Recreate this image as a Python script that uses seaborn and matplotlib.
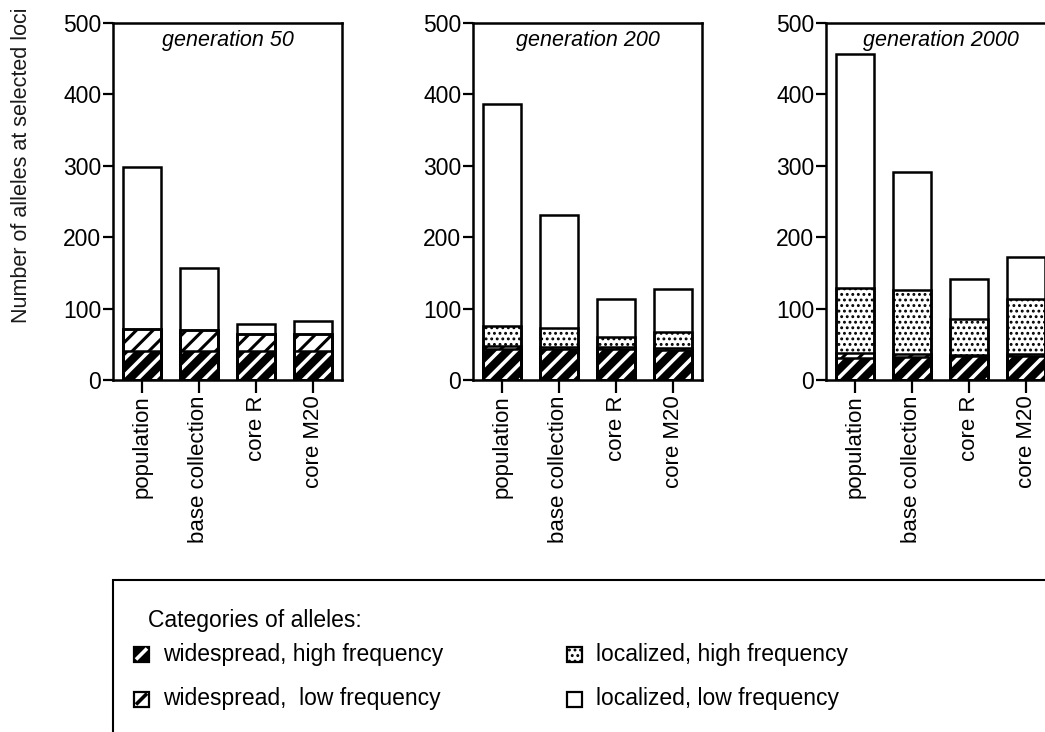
import numpy as np
import pandas as pd
import matplotlib
matplotlib.use("Agg")
import matplotlib.pyplot as plt
import seaborn as sns
from matplotlib.patches import Rectangle
from matplotlib.lines import Line2D

# ---------------- data ----------------
categories = ["population", "base collection", "core R", "core M20"]
generations = ["generation 50", "generation 200", "generation 2000"]
yticks = [0, 100, 200, 300, 400, 500]

wide_high_50 = [40, 40, 41, 41]
wide_low_50 = [32, 30, 23, 24]
local_high_50 = [0, 0, 0, 0]
local_low_50 = [226, 87, 15, 18]

wide_high_200 = [44, 43, 43, 42]
wide_low_200 = [3, 3, 3, 3]
local_high_200 = [29, 27, 14, 22]
local_low_200 = [310, 158, 53, 61]

wide_high_2000 = [31, 32, 33, 34]
wide_low_2000 = [7, 5, 2, 2]
local_high_2000 = [91, 89, 51, 77]
local_low_2000 = [328, 165, 55, 59]

legend_title = "Categories of alleles:"
legend_labels = ["widespread, high frequency", "widespread,  low frequency",
                 "localized, high frequency", "localized, low frequency"]

panels = [
    (wide_high_50, wide_low_50, local_high_50, local_low_50),
    (wide_high_200, wide_low_200, local_high_200, local_low_200),
    (wide_high_2000, wide_low_2000, local_high_2000, local_low_2000),
]

# ---------------- style ----------------
sns.set_style("ticks")
plt.rcParams["font.family"] = ["Liberation Sans", "DejaVu Sans"]
plt.rcParams["hatch.linewidth"] = 2.2
plt.rcParams["text.color"] = "black"
plt.rcParams["axes.labelcolor"] = "black"

W, H = 1045, 732
fig = plt.figure(figsize=(W / 100, H / 100), dpi=100)


def axrect(x0, top, w, h):
    return [x0 / W, 1 - (top + h) / H, w / W, h / H]


lefts = [113, 473, 826]
BW = 0.66

for left, gen, (wh, wl, lh, ll) in zip(lefts, generations, panels):
    ax = fig.add_axes(axrect(left, 23, 229, 357))
    wh = np.array(wh)
    wl = np.array(wl)
    lh = np.array(lh)
    ll = np.array(ll)
    c1 = wh
    c2 = wh + wl
    c3 = wh + wl + lh
    c4 = wh + wl + lh + ll
    layers = [
        (c4, "white", "white", None, 2.2),
        (c3, "white", "black", "...", 1.3),
        (c2, "white", "black", "//", 2.2),
        (c1, "black", "white", "//", 2.6),
    ]
    for vals, fc, ec, hatch, hlw in layers:
        df = pd.DataFrame({"cat": categories, "val": vals})
        n0 = len(ax.patches)
        with plt.rc_context({"hatch.linewidth": hlw}):
            sns.barplot(data=df, x="cat", y="val", ax=ax, color=fc,
                        saturation=1, edgecolor=ec, hatch=hatch, linewidth=0,
                        width=BW, errorbar=None)
        for p in ax.patches[n0:]:
            if hasattr(p, "set_hatch_linewidth"):
                p.set_hatch_linewidth(hlw)
    for vals in [c4, c3, c2, c1]:
        df = pd.DataFrame({"cat": categories, "val": vals})
        sns.barplot(data=df, x="cat", y="val", ax=ax, fill=False,
                    color="black", linewidth=1.8, width=BW, errorbar=None)

    ax.set_xlim(-0.5, 3.5)
    ax.set_ylim(0, 500)
    ax.set_yticks(yticks)
    ax.set_xlabel("")
    ax.set_ylabel("")
    for s in ax.spines.values():
        s.set_visible(True)
        s.set_linewidth(1.8)
        s.set_color("black")
    ax.tick_params(axis="y", length=7.5, width=1.6, labelsize=16.5, pad=1,
                   colors="black")
    ax.tick_params(axis="x", length=9, width=1.6, labelsize=16, pad=2,
                   labelrotation=90, colors="black")
    ax.text(0.5, 0.95, gen, transform=ax.transAxes, ha="center", va="center",
            style="italic", fontsize=15.5, color="black")

fig.text(22 / W, 1 - 165 / H, "Number of alleles at selected loci",
         rotation=90, ha="center", va="center", fontsize=15.5,
         color="#1a1a1a")

# ---------------- legend box ----------------
fig.add_artist(Rectangle((113 / W, 1 - 800 / H), 1000 / W, (800 - 580) / H,
                         transform=fig.transFigure, fill=False, lw=1.5,
                         edgecolor="black"))
fig.text(148 / W, 1 - 620 / H, legend_title, ha="left", va="center",
         fontsize=16.5)

S = 15
entries = [
    (134, 654, "black", "white", None),
    (134, 699, "white", "black", None),
    (567, 654, "white", "black", "..."),
    (567, 699, "white", "black", None),
]
stripes = ["white", "black", None, None]
for (x, y, fc, ec, hatch), stripe, lab in zip(entries, stripes, legend_labels):
    x0, y0 = x / W, 1 - (y + S / 2) / H
    with plt.rc_context({"hatch.linewidth": 1.3}):
        r = Rectangle((x0, y0), S / W, S / H, transform=fig.transFigure,
                      facecolor=fc, edgecolor=ec, hatch=hatch, lw=0)
    if hasattr(r, "set_hatch_linewidth"):
        r.set_hatch_linewidth(1.3)
    fig.add_artist(r)
    if stripe is not None:
        fig.add_artist(Line2D([x0 + 2 / W, x0 + (S - 2) / W],
                              [y0 + 2 / H, y0 + (S - 2) / H],
                              transform=fig.transFigure, color=stripe,
                              lw=2.6, solid_capstyle="butt"))
    fig.add_artist(Rectangle((x0, y0), S / W, S / H,
                             transform=fig.transFigure, fill=False,
                             edgecolor="black", lw=1.6))
    fig.text((x + 29) / W, 1 - y / H, lab, ha="left", va="center",
             fontsize=16.5)

fig.savefig("out.png", dpi=100)
